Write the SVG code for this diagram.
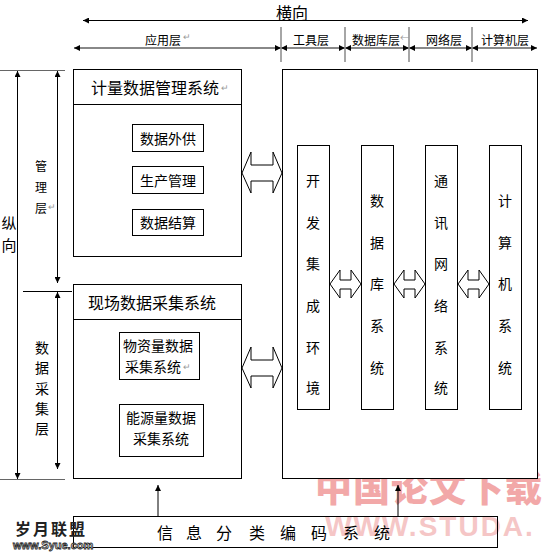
<svg xmlns="http://www.w3.org/2000/svg" width="542" height="554" viewBox="0 0 542 554">
<defs>
<marker id="ah" markerUnits="userSpaceOnUse" markerWidth="7" markerHeight="6" refX="6" refY="3" orient="auto-start-reverse"><path d="M0,0 L6,3 L0,6 z" fill="#000"/></marker>
<style>
text{font-family:"Noto Sans CJK SC","Noto Sans CJK JP",sans-serif;fill:#000}
.box{fill:#fff;stroke:#000;stroke-width:1}
.ln{stroke:#000;stroke-width:1;fill:none}
.gl{stroke:#888;stroke-width:2;fill:none}
.gv{stroke:#888;stroke-width:1.5;fill:none}
.c{text-anchor:middle;dominant-baseline:central}
.t12{font-size:12px}
.t14{font-size:14px}
.t16{font-size:16px}
.pm{fill:#999;font-size:9px}
.dar{fill:#fff;stroke:#000;stroke-width:1}
</style>
</defs>
<rect width="542" height="554" fill="#fff"/>

<!-- watermark (pink) -->
<g id="watermark-studa">
<text x="429" y="486" class="c" style="font-size:37px;font-weight:900;fill:#f2a8a8;letter-spacing:1px">中国论文下载</text>
<text x="430" y="526" class="c" style="font-size:28px;font-weight:bold;fill:#f5c6c6;font-family:'Liberation Sans',sans-serif;letter-spacing:2px">WWW.STUDA.</text>
</g>

<!-- axis and layer labels -->
<g id="axes">
<text x="292" y="12" class="c t16">横向</text>
<line x1="83" y1="20.5" x2="528" y2="20.5" class="ln" marker-start="url(#ah)" marker-end="url(#ah)"/>
<text x="163" y="39" class="c t12">应用层</text><text x="183" y="40" class="pm">↵</text>
<text x="311" y="39" class="c t12">工具层</text>
<text x="376" y="39" class="c t12">数据库层</text><text x="400" y="41" class="pm">←</text>
<text x="444" y="39" class="c t12">网络层</text>
<text x="505" y="39" class="c t12">计算机层</text>
<line x1="74" y1="48" x2="281" y2="48" class="gl" marker-start="url(#ah)" marker-end="url(#ah)"/>
<line x1="281" y1="48" x2="345" y2="48" class="gl" marker-start="url(#ah)" marker-end="url(#ah)"/>
<line x1="345" y1="48" x2="409" y2="48" class="gl" marker-start="url(#ah)" marker-end="url(#ah)"/>
<line x1="409" y1="48" x2="472" y2="48" class="gl" marker-start="url(#ah)" marker-end="url(#ah)"/>
<line x1="472" y1="48" x2="537" y2="48" class="gl" marker-start="url(#ah)" marker-end="url(#ah)"/>
<line x1="281" y1="27" x2="281" y2="62" class="gv"/>
<line x1="345" y1="27" x2="345" y2="62" class="gv"/>
<line x1="409" y1="27" x2="409" y2="62" class="gv"/>
<line x1="472" y1="27" x2="472" y2="62" class="gv"/>

<line x1="0" y1="70.5" x2="65" y2="70.5" class="ln" style="stroke:#666"/>
<line x1="23" y1="291.5" x2="72" y2="291.5" class="ln"/>
<line x1="0" y1="479.5" x2="65" y2="479.5" class="ln" style="stroke:#666"/>
<line x1="17.5" y1="71" x2="17.5" y2="479" class="ln" marker-start="url(#ah)" marker-end="url(#ah)"/>
<line x1="57.5" y1="71" x2="57.5" y2="283" class="ln" marker-start="url(#ah)" marker-end="url(#ah)"/>
<line x1="57.5" y1="292" x2="57.5" y2="469" class="ln" marker-start="url(#ah)" marker-end="url(#ah)"/>
<text class="c" style="font-size:15px" x="9" y="222">纵</text>
<text class="c" style="font-size:15px" x="9" y="244">向</text>
<text class="c t12" x="41"><tspan x="41" y="165">管</tspan><tspan x="41" y="186">理</tspan><tspan x="41" y="207">层</tspan></text>
<text x="48" y="210" class="pm">↵</text>
<text class="c t14" x="42"><tspan x="42" y="347">数</tspan><tspan x="42" y="367">据</tspan><tspan x="42" y="388">采</tspan><tspan x="42" y="408">集</tspan><tspan x="42" y="428">层</tspan></text>
</g>

<!-- left upper -->
<g id="mgmt-system">
<rect x="73.5" y="69.5" width="168" height="187" class="box"/>
<line x1="73.5" y1="104.5" x2="241.5" y2="104.5" class="ln"/>
<text x="91" y="87" class="t16" dominant-baseline="central">计量数据管理系统</text><text x="221" y="91" class="pm">↵</text>
</g>
<g id="n-data-supply"><rect x="132.5" y="124.5" width="71" height="27" class="box"/><text x="168" y="138" class="c t14">数据外供</text></g>
<g id="n-production"><rect x="132.5" y="166.5" width="71" height="27" class="box"/><text x="168" y="180" class="c t14">生产管理</text></g>
<g id="n-settlement"><rect x="132.5" y="209.5" width="71" height="26" class="box"/><text x="168" y="222" class="c t14">数据结算</text></g>

<!-- left lower -->
<g id="field-system">
<rect x="73.5" y="284.5" width="168" height="194" class="box"/>
<line x1="73.5" y1="319.5" x2="241.5" y2="319.5" class="ln"/>
<text x="88" y="302" class="t16" dominant-baseline="central">现场数据采集系统</text>
</g>
<g id="n-material"><rect x="119.5" y="332.5" width="80" height="47" class="box"/><text x="158" y="345" class="c t14">物资量数据</text><text x="153" y="366" class="c t14">采集系统</text><text x="183" y="370" class="pm">↵</text></g>
<g id="n-energy"><rect x="119.5" y="404.5" width="84" height="52" class="box"/><text x="161" y="417" class="c t14">能源量数据</text><text x="161" y="438" class="c t14">采集系统</text></g>

<!-- right big box -->
<g id="platform"><rect x="282.5" y="69.5" width="255" height="409" class="box"/></g>
<g id="n-dev"><rect x="297.5" y="145.5" width="32" height="264" class="box"/>
<text class="c t14"><tspan x="313" y="180">开</tspan><tspan x="313" y="222">发</tspan><tspan x="313" y="263">集</tspan><tspan x="313" y="305">成</tspan><tspan x="313" y="347">环</tspan><tspan x="313" y="387">境</tspan></text></g>
<g id="n-db"><rect x="361.5" y="145.5" width="32" height="264" class="box"/>
<text class="c t14"><tspan x="377" y="200">数</tspan><tspan x="377" y="242">据</tspan><tspan x="377" y="283">库</tspan><tspan x="377" y="325">系</tspan><tspan x="377" y="367">统</tspan></text></g>
<g id="n-net"><rect x="425.5" y="145.5" width="32" height="264" class="box"/>
<text class="c t14"><tspan x="441" y="180">通</tspan><tspan x="441" y="222">讯</tspan><tspan x="441" y="263">网</tspan><tspan x="441" y="305">络</tspan><tspan x="441" y="347">系</tspan><tspan x="441" y="387">统</tspan></text></g>
<g id="n-comp"><rect x="489.5" y="145.5" width="32" height="264" class="box"/>
<text class="c t14"><tspan x="505" y="200">计</tspan><tspan x="505" y="242">算</tspan><tspan x="505" y="283">机</tspan><tspan x="505" y="325">系</tspan><tspan x="505" y="367">统</tspan></text></g>

<!-- bottom -->
<g id="coding-system"><rect x="73.5" y="516.5" width="424" height="31" class="box" style="fill:none"/>
<text class="c t16" y="532"><tspan x="165">信</tspan><tspan x="194">息</tspan><tspan x="224">分</tspan><tspan x="257">类</tspan><tspan x="288">编</tspan><tspan x="319">码</tspan><tspan x="351">系</tspan><tspan x="382">统</tspan></text></g>

<!-- connectors -->
<g id="connectors">
<polygon class="dar" points="242,173 251,152 251,165 273,165 273,152 282,173 273,193 273,181 251,181 251,193"/>
<polygon class="dar" points="242,368 251,347 251,360 273,360 273,347 282,368 273,388 273,376 251,376 251,388"/>
<polygon class="dar" points="330,284 340,270 340,280 351,280 351,270 361,284 351,298 351,289 340,289 340,298"/>
<polygon class="dar" points="394,284 404,270 404,280 415,280 415,270 425,284 415,298 415,289 404,289 404,298"/>
<polygon class="dar" points="458,284 468,270 468,280 479,280 479,270 489,284 479,298 479,289 468,289 468,298"/>
<line x1="158" y1="516" x2="158" y2="485" class="ln" marker-end="url(#ah)"/>
<line x1="398" y1="516" x2="398" y2="485" class="ln" marker-end="url(#ah)"/>
</g>

<!-- watermark (black) -->
<g id="watermark-syue">
<text x="15" y="528" dominant-baseline="central" style="font-size:16px;font-weight:bold;fill:#222;letter-spacing:2px">岁月联盟</text>
<text x="13" y="545" dominant-baseline="central" style="font-size:11px;font-weight:bold;fill:#fff;stroke:#222;stroke-width:0.8;font-family:'Liberation Sans',sans-serif">www.Syue.com</text>
</g>
</svg>
